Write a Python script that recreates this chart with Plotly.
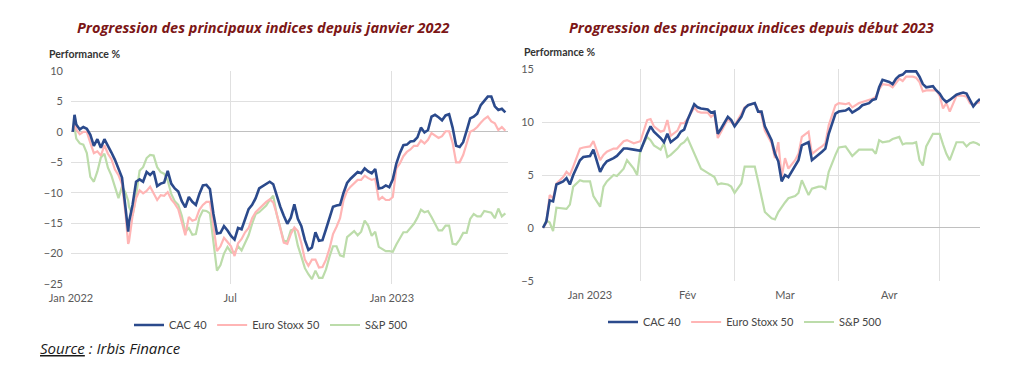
import plotly.graph_objects as go

# ---------------- data: left chart (performance % since January 2022) ----------------
dates_2022 = [
    "2022-01-03", "2022-01-05", "2022-01-07", "2022-01-11", "2022-01-15", "2022-01-19", "2022-01-23", "2022-01-27", "2022-01-31",
    "2022-02-04", "2022-02-08", "2022-02-12", "2022-02-16", "2022-02-20", "2022-02-24", "2022-02-28",
    "2022-03-04", "2022-03-07", "2022-03-08", "2022-03-12", "2022-03-16", "2022-03-20", "2022-03-24", "2022-03-28",
    "2022-04-01", "2022-04-05", "2022-04-09", "2022-04-13", "2022-04-17", "2022-04-21", "2022-04-25", "2022-04-29",
    "2022-05-03", "2022-05-07", "2022-05-11", "2022-05-15", "2022-05-19", "2022-05-23", "2022-05-27", "2022-05-31",
    "2022-06-04", "2022-06-08", "2022-06-12", "2022-06-16", "2022-06-20", "2022-06-24", "2022-06-28",
    "2022-07-02", "2022-07-06", "2022-07-10", "2022-07-14", "2022-07-18", "2022-07-22", "2022-07-26", "2022-07-30",
    "2022-08-03", "2022-08-07", "2022-08-11", "2022-08-15", "2022-08-19", "2022-08-23", "2022-08-27", "2022-08-31",
    "2022-09-04", "2022-09-08", "2022-09-12", "2022-09-16", "2022-09-20", "2022-09-24", "2022-09-28",
    "2022-10-02", "2022-10-06", "2022-10-10", "2022-10-14", "2022-10-18", "2022-10-22", "2022-10-26", "2022-10-30",
    "2022-11-03", "2022-11-07", "2022-11-11", "2022-11-15", "2022-11-19", "2022-11-23", "2022-11-27",
    "2022-12-01", "2022-12-05", "2022-12-09", "2022-12-13", "2022-12-17", "2022-12-21", "2022-12-25", "2022-12-29",
    "2023-01-02", "2023-01-06", "2023-01-10", "2023-01-14", "2023-01-18", "2023-01-22", "2023-01-26", "2023-01-30",
    "2023-02-03", "2023-02-07", "2023-02-11", "2023-02-15", "2023-02-19", "2023-02-23", "2023-02-27",
    "2023-03-03", "2023-03-07", "2023-03-11", "2023-03-15", "2023-03-19", "2023-03-23", "2023-03-27", "2023-03-31",
    "2023-04-04", "2023-04-08", "2023-04-12", "2023-04-16", "2023-04-20", "2023-04-24", "2023-04-28",
    "2023-05-02", "2023-05-06", "2023-05-10",
]

cac_2022 = [
    0.0, 2.8, 1.2, 0.4, 0.8, 0.5, -0.5, -2.3, -1.2,
    -2.6, -1.2, -2.2, -3.4, -4.6, -6.0, -7.5,
    -12.5, -16.4, -14.8, -12.0, -8.2, -7.8, -8.2, -6.6,
    -7.1, -6.5, -8.9, -8.5, -8.3, -6.4, -8.5, -9.3,
    -9.8, -11.4, -12.4, -10.7, -11.5, -12.0, -10.2, -8.8,
    -8.7, -9.4, -13.5, -16.7, -16.6, -15.5, -16.2,
    -17.1, -17.7, -15.8, -16.0, -14.5, -12.7, -12.0, -10.9,
    -9.3, -8.9, -8.6, -8.2, -8.6, -10.5, -12.3, -13.8,
    -15.1, -14.1, -11.9, -14.3, -15.5, -17.8, -19.4,
    -19.0, -16.5, -17.9, -17.8, -16.0, -14.2, -12.3, -12.1,
    -12.0, -10.0, -8.4, -7.7, -7.2, -6.6, -6.8,
    -6.0, -6.5, -6.8, -6.1, -9.3, -9.2, -8.8, -9.1,
    -7.8, -5.2, -3.5, -2.2, -2.1, -1.6, -1.5, -0.9,
    0.7, -0.1, 0.3, 2.5, 2.8, 2.4, 1.9,
    2.7, 2.9, 0.7, -2.3, -2.5, -1.7, 0.2, 2.2,
    2.5, 3.0, 4.4, 5.2, 5.8, 5.8, 4.2,
    3.6, 3.8, 3.2,
]

estoxx_2022 = [
    0.0, 1.7, 0.4, -0.4, 0.0, 0.0, -1.8, -3.5, -3.2,
    -3.9, -2.2, -3.6, -4.5, -6.2, -7.1, -8.6,
    -13.5, -18.4, -18.0, -13.8, -10.9, -9.6, -10.1, -9.7,
    -9.0, -10.0, -11.2, -10.4, -10.5, -9.9, -11.1, -11.8,
    -12.7, -14.8, -17.0, -14.0, -14.6, -14.4, -12.8, -12.0,
    -11.5, -11.5, -16.0, -19.6, -18.8, -17.4, -18.1,
    -18.8, -20.4, -18.3, -17.6, -16.5, -15.8, -14.2, -13.2,
    -12.6, -12.1, -11.5, -11.1, -11.6, -13.5, -15.9, -18.2,
    -18.4, -16.8, -15.7, -16.3, -18.3, -21.0, -22.0,
    -21.0, -21.0, -22.3, -22.2, -21.0, -19.2, -16.8, -15.6,
    -14.2, -11.2, -9.7, -9.0, -8.4, -7.9, -7.9,
    -7.2, -7.6, -7.9, -7.7, -11.2, -10.7, -11.2, -11.2,
    -10.7, -6.0, -5.2, -4.0, -3.3, -2.9, -2.3, -2.3,
    -1.4, -1.9, -1.3, -0.2, -0.6, -1.0, -0.7,
    0.1, 0.1, -1.8, -5.0, -5.0, -3.8, -1.9, 0.0,
    0.3, 0.8, 1.5, 2.1, 2.5, 1.7, 1.4,
    0.3, 0.8, 0.2,
]

sp500_2022 = [
    0.0, 0.8, -1.1, -1.9, -2.1, -3.5, -7.4, -8.2, -6.5,
    -4.2, -3.6, -5.9, -7.2, -9.0, -10.9, -9.0,
    -10.0, -11.3, -12.3, -13.8, -10.5, -6.4, -5.8, -4.3,
    -3.8, -3.9, -5.8, -6.6, -6.9, -8.0, -10.2, -11.4,
    -12.0, -13.8, -16.4, -15.8, -16.9, -16.8, -14.1, -12.9,
    -13.0, -13.4, -17.8, -22.8, -21.9, -20.0, -18.9,
    -19.8, -19.9, -18.8, -19.5, -18.2, -17.0, -15.1, -13.5,
    -13.2, -12.6, -12.1, -11.2, -10.5, -13.6, -15.7, -17.9,
    -18.0, -16.2, -16.0, -18.7, -20.5, -22.4, -23.4,
    -24.2, -22.8, -24.0, -24.0, -22.6, -20.5, -18.8, -18.8,
    -20.3, -20.5, -17.3, -16.8, -16.3, -17.0, -16.4,
    -14.6, -15.4, -17.1, -16.4, -18.9, -19.3, -19.6, -19.6,
    -19.7, -18.5, -17.4, -16.5, -16.5, -15.8, -15.1, -14.1,
    -12.8, -13.2, -13.0, -14.0, -15.2, -16.2, -16.2,
    -15.4, -15.4, -18.4, -18.5, -17.7, -16.6, -16.6, -14.3,
    -13.5, -13.9, -13.9, -13.0, -13.2, -13.3, -14.2,
    -12.6, -13.9, -13.4,
]

# ---------------- data: right chart (performance % since start of 2023) ----------------
dates_2023 = [
    "2023-01-03", "2023-01-04", "2023-01-05", "2023-01-06", "2023-01-07", "2023-01-09", "2023-01-10", "2023-01-11",
    "2023-01-12", "2023-01-14", "2023-01-15", "2023-01-17", "2023-01-18", "2023-01-20", "2023-01-21", "2023-01-22",
    "2023-01-24", "2023-01-25", "2023-01-27", "2023-01-28", "2023-01-30", "2023-01-31",
    "2023-02-01", "2023-02-03", "2023-02-04", "2023-02-05", "2023-02-07", "2023-02-08", "2023-02-09", "2023-02-10",
    "2023-02-12", "2023-02-13", "2023-02-14", "2023-02-15", "2023-02-17", "2023-02-18", "2023-02-19", "2023-02-21",
    "2023-02-22", "2023-02-23", "2023-02-24", "2023-02-25", "2023-02-27", "2023-02-28",
    "2023-03-01", "2023-03-03", "2023-03-04", "2023-03-05", "2023-03-07", "2023-03-08", "2023-03-09", "2023-03-10",
    "2023-03-12", "2023-03-13", "2023-03-14", "2023-03-15", "2023-03-16", "2023-03-17", "2023-03-19", "2023-03-20",
    "2023-03-21", "2023-03-23", "2023-03-24", "2023-03-26", "2023-03-27", "2023-03-28", "2023-03-29", "2023-03-31",
    "2023-04-01", "2023-04-03", "2023-04-04", "2023-04-05", "2023-04-07", "2023-04-08", "2023-04-10", "2023-04-11",
    "2023-04-12", "2023-04-13", "2023-04-14", "2023-04-16", "2023-04-17", "2023-04-18", "2023-04-19", "2023-04-20",
    "2023-04-21", "2023-04-23", "2023-04-24", "2023-04-25", "2023-04-26", "2023-04-27", "2023-04-29", "2023-04-30",
    "2023-05-01", "2023-05-02", "2023-05-03", "2023-05-04", "2023-05-06", "2023-05-07", "2023-05-08", "2023-05-09",
    "2023-05-10", "2023-05-11", "2023-05-12", "2023-05-13",
]

cac_2023 = [
    0.0, 0.6, 2.6, 2.5, 4.1, 4.4, 4.7, 4.1,
    5.0, 6.4, 6.7, 6.8, 7.4, 5.3, 5.9, 6.3,
    6.6, 6.8, 7.5, 7.5, 7.4, 7.35,
    7.3, 8.9, 9.6, 9.1, 8.5, 8.1, 8.9, 8.1,
    8.6, 9.1, 9.3, 10.2, 11.7, 11.4, 11.3, 11.2,
    10.9, 11.0, 8.9, 9.4, 10.5, 10.2,
    9.6, 10.5, 11.3, 11.6, 11.8, 11.0, 11.0, 9.6,
    8.3, 7.0, 6.3, 4.4, 5.0, 4.8, 5.8, 6.4,
    7.8, 8.1, 6.4, 6.9, 7.2, 7.5, 8.9, 10.8,
    11.0, 11.1, 11.3, 10.9, 11.3, 11.6, 11.8, 12.1,
    12.2, 13.3, 14.0, 13.8, 13.6, 14.1, 14.4, 14.5,
    14.8, 14.8, 14.8, 14.3, 13.6, 13.3, 13.4, 13.0,
    12.7, 12.2, 11.9, 12.1, 12.6, 12.7, 12.8, 12.7,
    12.1, 11.5, 11.9, 12.2,
]

estoxx_2023 = [
    0.0, 0.5, 3.1, 2.8, 4.2, 4.8, 5.3, 5.0,
    5.8, 7.5, 7.6, 7.7, 8.2, 6.4, 6.9, 7.2,
    7.5, 7.5, 8.2, 8.3, 8.0, 8.1,
    8.2, 10.2, 10.3, 9.6, 9.1, 9.2, 10.2, 8.7,
    9.2, 9.9, 9.9, 10.3, 11.4, 11.0, 10.9, 10.9,
    10.5, 10.8, 8.5, 9.1, 10.3, 10.0,
    9.7, 10.8, 11.4, 11.6, 11.8, 11.1, 10.7, 9.2,
    8.0, 6.6, 8.1, 4.8, 6.6, 5.6, 6.4, 7.0,
    8.6, 9.1, 7.0, 7.5, 7.7, 8.0, 9.7, 11.6,
    11.8, 11.7, 11.8, 11.4, 11.8, 11.9, 12.1, 12.2,
    12.4, 13.1, 13.6, 13.5, 13.3, 13.7, 14.1, 13.9,
    14.3, 14.3, 14.2, 13.8, 12.9, 13.0, 13.0, 13.0,
    12.5, 11.3, 11.8, 11.0, 12.5, 12.5, 12.5, 12.4,
    11.8, 11.6, 11.8, 11.9,
]

sp500_2023 = [
    0.0, 0.7, 0.5, -0.3, 1.9, 1.8, 1.8, 2.2,
    3.9, 4.5, 4.4, 4.4, 3.0, 2.0, 3.9, 4.4,
    5.0, 4.9, 5.6, 6.4, 5.6, 5.0,
    7.4, 8.6, 8.3, 7.8, 7.4, 8.0, 6.7, 6.9,
    7.5, 7.9, 8.1, 8.5, 7.0, 6.4, 5.6, 5.2,
    5.0, 4.8, 4.1, 4.2, 4.1, 3.9,
    3.3, 4.2, 5.8, 5.8, 5.8, 4.4, 3.0, 1.5,
    0.9, 0.8, 1.5, 2.0, 2.4, 2.8, 3.0, 3.3,
    4.5, 3.1, 3.7, 3.9, 3.9, 3.7, 5.3, 6.9,
    7.6, 7.7, 7.2, 6.8, 7.4, 7.4, 7.4, 7.4,
    7.0, 8.3, 8.1, 8.2, 8.4, 8.5, 8.6, 7.9,
    8.0, 8.0, 8.1, 6.4, 5.9, 7.7, 8.9, 8.9,
    8.9, 7.9, 7.0, 6.4, 8.1, 8.1, 8.1, 7.7,
    8.0, 8.1, 8.0, 7.8,
]

assert len(dates_2022) == len(cac_2022) == len(estoxx_2022) == len(sp500_2022), (
    len(dates_2022), len(cac_2022), len(estoxx_2022), len(sp500_2022))
assert len(dates_2023) == len(cac_2023) == len(estoxx_2023) == len(sp500_2023), (
    len(dates_2023), len(cac_2023), len(estoxx_2023), len(sp500_2023))

series_names = ["CAC 40", "Euro Stoxx 50", "S&P 500"]
left_values = [cac_2022, estoxx_2022, sp500_2022]
right_values = [cac_2023, estoxx_2023, sp500_2023]

left_tickvals = ["2022-01-01", "2022-07-01", "2023-01-01"]
left_ticktext = ["Jan 2022", "Jul", "Jan 2023"]
right_month_starts = ["2023-02-01", "2023-03-01", "2023-04-01", "2023-05-01"]
right_label_pos = ["2023-01-17", "2023-02-15", "2023-03-16", "2023-04-16"]
right_ticktext = ["Jan 2023", "Fév", "Mar", "Avr"]

# ---------------- styling / page geometry ----------------
colors = ["#2b4a8c", "#ffb5b5", "#bcdcaa"]
widths = [2.6, 2.2, 2.2]
grid_c = "#e0e0e0"
zero_c = "#c0c0c0"
tick_font = dict(family="Lato", size=11, color="#5a5a5a")
title_color = "#7c1616"

OFF = 8                      # default body margin of the html page
W, H = 1024 - 2 * OFF, 378 - 2 * OFF


def px(x):
    return (x - OFF) / W


def py(y):
    return 1 - (y - OFF) / H


fig = go.Figure()
for i in [2, 1, 0]:
    fig.add_trace(go.Scatter(
        x=dates_2022, y=left_values[i], mode="lines", name=series_names[i],
        line=dict(color=colors[i], width=widths[i]),
        xaxis="x", yaxis="y", legend="legend", legendrank=i + 1, hoverinfo="skip"))
for i in [2, 1, 0]:
    fig.add_trace(go.Scatter(
        x=dates_2023, y=right_values[i], mode="lines", name=series_names[i],
        line=dict(color=colors[i], width=widths[i]),
        xaxis="x2", yaxis="y2", legend="legend2", legendrank=i + 1, hoverinfo="skip"))

fig.update_layout(
    width=W, height=H, autosize=False,
    margin=dict(l=0, r=0, t=0, b=0, autoexpand=False),
    paper_bgcolor="white", plot_bgcolor="white",
    font=dict(family="Lato", size=11, color="#5a5a5a"),
    xaxis=dict(
        domain=[px(71), px(508)], anchor="y", type="date",
        range=["2022-01-01", "2023-05-13"],
        tickmode="array", tickvals=left_tickvals, ticktext=left_ticktext,
        showgrid=True, gridcolor=grid_c, gridwidth=1, ticks="", showline=False,
        zeroline=False, tickfont=tick_font, ticklabelstandoff=6, automargin=False),
    yaxis=dict(
        domain=[py(284), py(71)], anchor="x",
        range=[-25, 10], tickmode="linear", tick0=0, dtick=5,
        showgrid=True, gridcolor=grid_c, gridwidth=1,
        zeroline=True, zerolinecolor=zero_c, zerolinewidth=1,
        ticks="", showline=False, tickfont=tick_font, ticklabelstandoff=7, automargin=False),
    xaxis2=dict(
        domain=[px(542), px(980)], anchor="y2", type="date",
        range=["2023-01-02 17:00", "2023-05-13"],
        tickmode="array", tickvals=right_label_pos, ticktext=right_ticktext,
        showgrid=False, ticks="", showline=False, zeroline=False,
        minor=dict(tickmode="array", tickvals=right_month_starts, showgrid=True,
                   gridcolor=grid_c, gridwidth=1, ticks=""),
        tickfont=tick_font, ticklabelstandoff=6, automargin=False),
    yaxis2=dict(
        domain=[py(280.7), py(69.3)], anchor="x2",
        range=[-5, 15], tickmode="linear", tick0=0, dtick=5,
        showgrid=True, gridcolor=grid_c, gridwidth=1,
        zeroline=True, zerolinecolor=zero_c, zerolinewidth=1,
        ticks="", showline=False, tickfont=tick_font, ticklabelstandoff=7, automargin=False),
    legend=dict(
        orientation="h", x=px(271), xanchor="center", y=py(325), yanchor="middle",
        font=dict(family="Lato", size=11, color="#454545"), traceorder="normal",
        bgcolor="rgba(0,0,0,0)", itemclick=False, itemdoubleclick=False),
    legend2=dict(
        orientation="h", x=px(745), xanchor="center", y=py(322), yanchor="middle",
        font=dict(family="Lato", size=11, color="#454545"), traceorder="normal",
        bgcolor="rgba(0,0,0,0)", itemclick=False, itemdoubleclick=False),
    showlegend=True,
)

annotations = [
    dict(text="<b><i>Progression des principaux indices depuis janvier 2022</i></b>",
         x=px(263), y=py(28), xanchor="center", yanchor="middle",
         font=dict(family="Open Sans", size=14.5, color=title_color)),
    dict(text="<b><i>Progression des principaux indices depuis début 2023</i></b>",
         x=px(751), y=py(28), xanchor="center", yanchor="middle",
         font=dict(family="Open Sans", size=14.5, color=title_color)),
    dict(text="<b>Performance %</b>", x=px(47), y=py(54), xanchor="left", yanchor="middle",
         font=dict(family="Lato", size=10.5, color="#333333")),
    dict(text="<b>Performance %</b>", x=px(522), y=py(52), xanchor="left", yanchor="middle",
         font=dict(family="Lato", size=10.5, color="#333333")),
    dict(text="<i><u>Source</u> : Irbis Finance</i>", x=px(38), y=py(348),
         xanchor="left", yanchor="middle",
         font=dict(family="Open Sans", size=15, color="#1a1a1a")),
]
for a in annotations:
    a.update(xref="paper", yref="paper", showarrow=False)
fig.update_layout(annotations=annotations)

fig.write_html("out.html")
